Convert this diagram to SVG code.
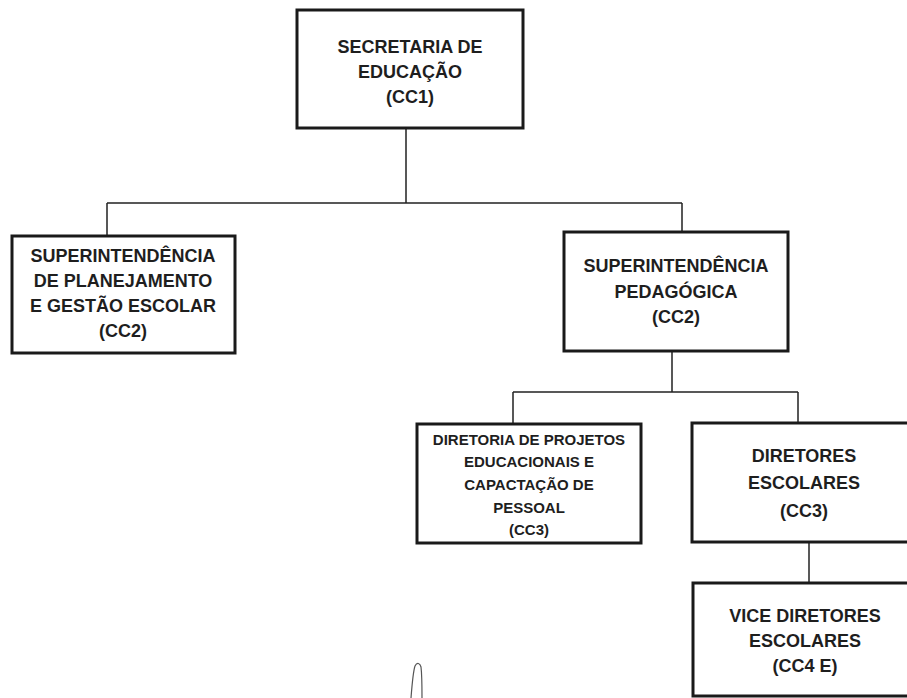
<svg xmlns="http://www.w3.org/2000/svg" width="907" height="698" viewBox="0 0 907 698">
<style>
.box{fill:#fff;stroke:#1a1a1a;stroke-width:3}
.t{font-family:"Liberation Sans",Arial,sans-serif;font-weight:bold;font-size:18px;fill:#1e1e1e;text-anchor:middle}
.s{font-size:15px}
.c{fill:none;stroke:#222;stroke-width:1.5}
</style>
<rect width="907" height="698" fill="#fff"/>
<g id="connectors">
<path class="c" d="M406 128V203M107 203H682M107 203V236M682 203V232"/>
<path class="c" d="M672 351V392M513 392H798M513 392V424M798 392V423"/>
<path class="c" d="M809 542V583"/>
</g>
<g id="n1">
<rect class="box" x="297" y="10" width="226" height="118"/>
<text class="t" x="410" y="53">SECRETARIA DE</text>
<text class="t" x="410" y="78">EDUCAÇÃO</text>
<text class="t" x="410" y="103">(CC1)</text>
</g>
<g id="n2">
<rect class="box" x="12" y="236" width="223" height="117"/>
<text class="t" x="123" y="262">SUPERINTENDÊNCIA</text>
<text class="t" x="123" y="287">DE PLANEJAMENTO</text>
<text class="t" x="123" y="312">E GESTÃO ESCOLAR</text>
<text class="t" x="123" y="337">(CC2)</text>
</g>
<g id="n3">
<rect class="box" x="564" y="232" width="224" height="119"/>
<text class="t" x="676" y="272">SUPERINTENDÊNCIA</text>
<text class="t" x="676" y="298">PEDAGÓGICA</text>
<text class="t" x="676" y="323">(CC2)</text>
</g>
<g id="n4">
<rect class="box" x="417" y="424" width="224" height="119"/>
<text class="t s" x="529" y="445">DIRETORIA DE PROJETOS</text>
<text class="t s" x="529" y="467">EDUCACIONAIS E</text>
<text class="t s" x="529" y="490">CAPACTAÇÃO DE</text>
<text class="t s" x="529" y="513">PESSOAL</text>
<text class="t s" x="529" y="535">(CC3)</text>
</g>
<g id="n5">
<rect class="box" x="692" y="423" width="230" height="119"/>
<text class="t" x="804" y="462">DIRETORES</text>
<text class="t" x="804" y="489">ESCOLARES</text>
<text class="t" x="804" y="517">(CC3)</text>
</g>
<g id="n6">
<rect class="box" x="693" y="583" width="230" height="113"/>
<text class="t" x="805" y="622">VICE DIRETORES</text>
<text class="t" x="805" y="647">ESCOLARES</text>
<text class="t" x="805" y="672">(CC4 E)</text>
</g>
<path d="M411 698C412 685 413 672 415 666C417 662 420 663 421 667C422 675 422 688 422 698" fill="none" stroke="#555" stroke-width="1.2"/>
</svg>
